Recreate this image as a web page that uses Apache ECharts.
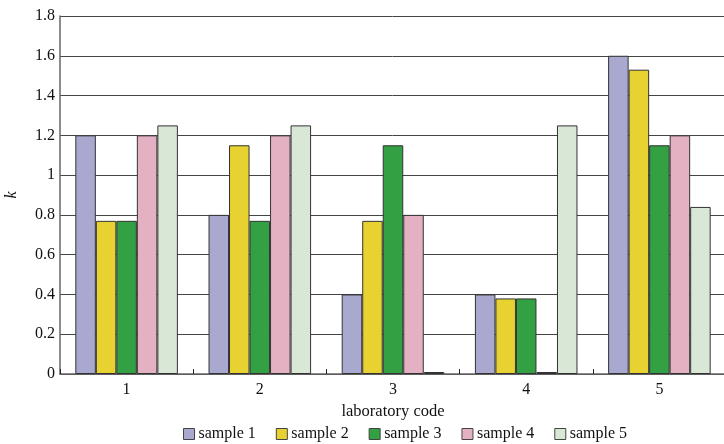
<!DOCTYPE html>
<html>
<head>
<meta charset="utf-8">
<script src="https://cdn.jsdelivr.net/npm/echarts@6/dist/echarts.min.js"></script>
<style>html,body{margin:0;padding:0;background:#fff}#c{width:724px;height:444px}</style>
</head>
<body>
<div id="c"></div>
<script>
var categories = ['1', '2', '3', '4', '5'];
var seriesNames = ['sample 1', 'sample 2', 'sample 3', 'sample 4', 'sample 5'];
var sample1 = [1.20, 0.80, 0.40, 0.40, 1.60];
var sample2 = [0.77, 1.15, 0.77, 0.38, 1.53];
var sample3 = [0.77, 0.77, 1.15, 0.38, 1.15];
var sample4 = [1.20, 1.20, 0.80, 0.01, 1.20];
var sample5 = [1.25, 1.25, 0.01, 1.25, 0.84];
var colors = ['#a9a9cf', '#e8d232', '#33a043', '#e4b1c3', '#d9e7d7'];

var font = '"Liberation Serif", "Times New Roman", serif';
var allData = [sample1, sample2, sample3, sample4, sample5];
var chart = echarts.init(document.getElementById('c'));
chart.setOption({
  animation: false,
  color: colors,
  textStyle: {fontFamily: font},
  grid: {left: 60, top: 16, width: 666, height: 358, containLabel: false, outerBoundsMode: 'none'},
  legend: {
    top: 421, left: 178,
    itemWidth: 11, itemHeight: 11, itemGap: 20,
    textStyle: {fontFamily: font, fontSize: 16, color: '#111', padding: [0, 0, 0, -1]},
    data: seriesNames.map(function (n) { return {name: n, icon: 'rect', itemStyle: {borderColor: '#444', borderWidth: 1}}; })
  },
  xAxis: {
    type: 'category', data: categories,
    name: 'laboratory code', nameLocation: 'middle', nameGap: 23,
    nameTextStyle: {fontFamily: font, fontSize: 16.5, color: '#111'},
    axisLine: {lineStyle: {color: '#666', width: 1.5}},
    axisTick: {show: true, inside: true, length: 5, lineStyle: {color: '#222'}},
    axisLabel: {fontFamily: font, fontSize: 16, color: '#111', margin: 8}
  },
  yAxis: {
    type: 'value', min: 0, max: 1.8, interval: 0.2,
    name: 'k', nameLocation: 'middle', nameGap: 40,
    nameTextStyle: {fontFamily: font, fontSize: 16, fontStyle: 'italic', color: '#111'},
    axisLine: {show: true, lineStyle: {color: '#666', width: 1.5}},
    axisTick: {show: false},
    axisLabel: {fontFamily: font, fontSize: 16, color: '#111', margin: 5,
      formatter: function (v) { return String(Math.round(v * 10) / 10); }},
    splitLine: {lineStyle: {color: '#444', width: 1}}
  },
  series: allData.map(function (d, i) {
    return {
      name: seriesNames[i], type: 'bar', data: d,
      barGap: '0%', barCategoryGap: '23%',
      itemStyle: {color: colors[i], borderColor: '#333', borderWidth: 1}
    };
  })
});
</script>
</body>
</html>
